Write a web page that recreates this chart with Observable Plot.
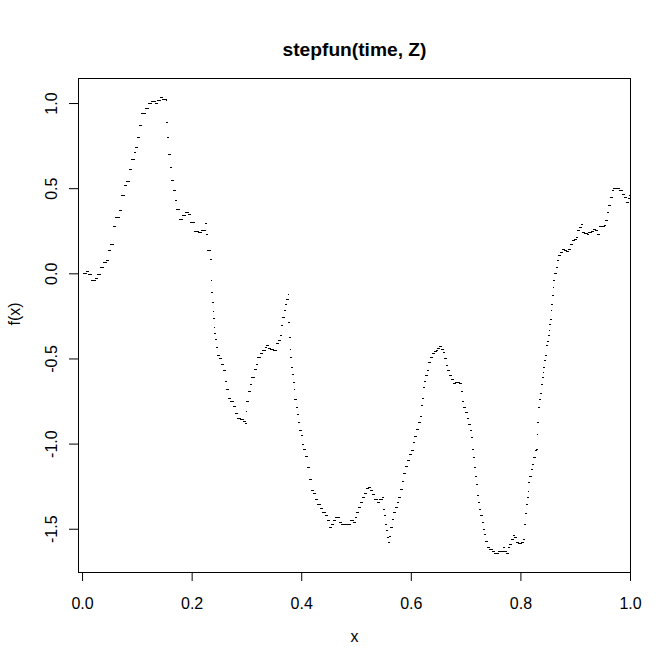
<!DOCTYPE html>
<html>
<head>
<meta charset="utf-8">
<script src="https://cdn.jsdelivr.net/npm/d3@7"></script>
<script src="https://cdn.jsdelivr.net/npm/@observablehq/plot@0.6"></script>
<style>
  html, body { margin: 0; padding: 0; background: #fff; }
  #chart svg { display: block; }
</style>
</head>
<body>
<div id="chart"></div>
<script>
const title = "stepfun(time, Z)";
const xLabel = "x";
const yLabel = "f(x)";

const xTicks = [0, 0.2, 0.4, 0.6, 0.8, 1.0];
const xTickLabels = ["0.0", "0.2", "0.4", "0.6", "0.8", "1.0"];
const yTicks = [-1.5, -1.0, -0.5, 0.0, 0.5, 1.0];
const yTickLabels = ["-1.5", "-1.0", "-0.5", "0.0", "0.5", "1.0"];

const time = [
0.0024,0.0086,0.0115,0.0177,0.0237,0.0279,0.0329,0.0389,0.0438,0.0480,
0.0524,0.0572,0.0616,0.0681,0.0725,0.0767,0.0816,0.0864,0.0908,0.0950,
0.0981,0.1010,0.1047,0.1090,0.1151,0.1211,0.1273,0.1333,0.1375,0.1425,
0.1474,0.1534,0.1547,0.1565,0.1584,0.1607,0.1638,0.1668,0.1699,0.1730,
0.1777,0.1826,0.1881,0.1942,0.1985,0.2046,0.2124,0.2186,0.2247,0.2265,
0.2296,0.2338,0.2356,0.2369,0.2380,0.2393,0.2398,0.2411,0.2417,0.2429,
0.2447,0.2471,0.2508,0.2552,0.2581,0.2612,0.2643,0.2672,0.2716,0.2763,
0.2800,0.2844,0.2899,0.2946,0.2977,0.2995,0.3008,0.3037,0.3068,0.3100,
0.3142,0.3178,0.3209,0.3251,0.3300,0.3342,0.3374,0.3403,0.3447,0.3494,
0.3531,0.3556,0.3585,0.3616,0.3647,0.3666,0.3689,0.3713,0.3739,0.3768,
0.3775,0.3786,0.3799,0.3812,0.3830,0.3848,0.3859,0.3872,0.3885,0.3909,
0.3932,0.3958,0.3976,0.4000,0.4018,0.4049,0.4073,0.4115,0.4152,0.4195,
0.4225,0.4268,0.4305,0.4347,0.4389,0.4438,0.4480,0.4517,0.4561,0.4590,
0.4621,0.4663,0.4700,0.4743,0.4804,0.4864,0.4908,0.4955,0.4986,0.5017,
0.5047,0.5078,0.5109,0.5151,0.5187,0.5229,0.5260,0.5302,0.5339,0.5383,
0.5425,0.5474,0.5503,0.5521,0.5540,0.5558,0.5576,0.5595,0.5613,0.5638,
0.5662,0.5686,0.5717,0.5748,0.5777,0.5808,0.5839,0.5868,0.5900,0.5931,
0.5973,0.6009,0.6040,0.6069,0.6100,0.6131,0.6174,0.6192,0.6205,0.6223,
0.6247,0.6265,0.6296,0.6325,0.6356,0.6387,0.6429,0.6466,0.6490,0.6526,
0.6557,0.6588,0.6612,0.6643,0.6672,0.6709,0.6740,0.6771,0.6813,0.6855,
0.6891,0.6917,0.6941,0.6964,0.6995,0.7026,0.7056,0.7087,0.7111,0.7123,
0.7142,0.7160,0.7178,0.7196,0.7215,0.7233,0.7251,0.7269,0.7301,0.7319,
0.7342,0.7366,0.7392,0.7439,0.7483,0.7525,0.7562,0.7604,0.7647,0.7684,
0.7713,0.7744,0.7775,0.7805,0.7836,0.7867,0.7896,0.7927,0.7969,0.8013,
0.8060,0.8073,0.8097,0.8110,0.8122,0.8141,0.8152,0.8170,0.8195,0.8214,
0.8243,0.8274,0.8292,0.8305,0.8316,0.8334,0.8353,0.8365,0.8384,0.8396,
0.8414,0.8425,0.8444,0.8457,0.8475,0.8488,0.8506,0.8524,0.8535,0.8548,
0.8561,0.8572,0.8584,0.8597,0.8608,0.8627,0.8652,0.8676,0.8700,0.8731,
0.8762,0.8804,0.8840,0.8882,0.8913,0.8944,0.8986,0.9023,0.9047,0.9078,
0.9109,0.9127,0.9169,0.9218,0.9247,0.9291,0.9328,0.9364,0.9401,0.9437,
0.9492,0.9534,0.9558,0.9584,0.9613,0.9644,0.9675,0.9704,0.9766,0.9808,
0.9857,0.9899,0.9936,0.9967,0.9996
];

const Z = [
0.000,0.014,-0.006,-0.037,-0.025,-0.006,0.037,0.066,0.076,0.135,
0.175,0.280,0.330,0.370,0.460,0.520,0.540,0.610,0.670,0.710,
0.740,0.800,0.870,0.940,0.970,1.000,1.014,1.000,1.018,1.037,
1.024,1.018,0.890,0.800,0.700,0.625,0.547,0.488,0.430,0.380,
0.320,0.340,0.360,0.350,0.300,0.250,0.243,0.257,0.296,0.233,
0.135,0.083,-0.040,-0.110,-0.170,-0.220,-0.265,-0.316,-0.350,-0.385,
-0.430,-0.480,-0.500,-0.530,-0.570,-0.630,-0.680,-0.730,-0.750,-0.780,
-0.820,-0.850,-0.855,-0.870,-0.880,-0.806,-0.750,-0.690,-0.650,-0.610,
-0.560,-0.530,-0.490,-0.470,-0.450,-0.430,-0.420,-0.440,-0.447,-0.450,
-0.453,-0.410,-0.390,-0.365,-0.306,-0.257,-0.218,-0.178,-0.150,-0.120,
-0.286,-0.375,-0.443,-0.490,-0.550,-0.590,-0.640,-0.680,-0.740,-0.786,
-0.826,-0.875,-0.920,-0.950,-1.000,-1.030,-1.070,-1.140,-1.210,-1.270,
-1.290,-1.325,-1.355,-1.380,-1.400,-1.420,-1.450,-1.487,-1.470,-1.450,
-1.430,-1.430,-1.460,-1.470,-1.470,-1.470,-1.450,-1.460,-1.430,-1.400,
-1.370,-1.345,-1.316,-1.290,-1.260,-1.256,-1.270,-1.296,-1.325,-1.340,
-1.325,-1.316,-1.385,-1.420,-1.470,-1.510,-1.550,-1.576,-1.540,-1.487,
-1.440,-1.400,-1.375,-1.345,-1.316,-1.267,-1.218,-1.170,-1.130,-1.096,
-1.060,-1.040,-0.990,-0.953,-0.914,-0.875,-0.835,-0.776,-0.730,-0.670,
-0.630,-0.600,-0.570,-0.520,-0.490,-0.467,-0.457,-0.450,-0.437,-0.424,
-0.443,-0.463,-0.500,-0.540,-0.570,-0.600,-0.620,-0.645,-0.640,-0.640,
-0.643,-0.690,-0.750,-0.786,-0.816,-0.850,-0.884,-0.920,-0.960,-1.030,
-1.080,-1.140,-1.190,-1.240,-1.300,-1.345,-1.385,-1.420,-1.460,-1.500,
-1.530,-1.570,-1.610,-1.620,-1.630,-1.645,-1.640,-1.630,-1.630,-1.610,
-1.630,-1.640,-1.610,-1.590,-1.560,-1.535,-1.550,-1.575,-1.586,-1.580,
-1.560,-1.470,-1.410,-1.355,-1.316,-1.276,-1.228,-1.190,-1.150,-1.120,
-1.080,-1.040,-1.030,-0.943,-0.875,-0.786,-0.737,-0.700,-0.650,-0.610,
-0.580,-0.550,-0.510,-0.480,-0.420,-0.400,-0.365,-0.330,-0.300,-0.267,
-0.218,-0.178,-0.130,-0.080,-0.040,0.000,0.037,0.076,0.106,0.125,
0.145,0.135,0.130,0.145,0.175,0.198,0.204,0.214,0.257,0.272,
0.288,0.243,0.237,0.233,0.243,0.249,0.263,0.253,0.229,0.276,
0.276,0.282,0.312,0.360,0.400,0.450,0.490,0.500,0.500,0.490,
0.465,0.450,0.420,0.445,0.460
];

const xDomain = [-0.0074, 1.0];
const yDomain = [-1.754, 1.147];

// step segments: each knot holds its value until the next knot
const steps = time.map((t, i) => ({
  x1: t,
  x2: i < time.length - 1 ? time[i + 1] : xDomain[1],
  y: Z[i]
}));

const chart = Plot.plot({
  width: 671,
  height: 670,
  marginLeft: 78,
  marginRight: 41,
  marginTop: 78,
  marginBottom: 98,
  style: {
    fontFamily: "'Liberation Sans', Arial, sans-serif",
    fontSize: "16px",
    background: "#ffffff",
    color: "#000000"
  },
  x: {domain: xDomain},
  y: {domain: yDomain},
  marks: [
    Plot.ruleY(steps, {
      x1: "x1", x2: "x2", y: "y",
      stroke: "#000", strokeWidth: 1, strokeLinecap: "square",
      shapeRendering: "crispEdges"
    }),
    Plot.frame({stroke: "#000", strokeWidth: 1}),
    Plot.axisX(xTicks, {
      tickSize: 9, tickPadding: 16, fontSize: 16, label: null,
      tickFormat: d => xTickLabels[xTicks.indexOf(d)]
    }),
    Plot.axisY(yTicks, {
      tickSize: 9, tickPadding: 13, tickRotate: -90, fontSize: 16, label: null,
      tickFormat: d => yTickLabels[yTicks.indexOf(d)]
    }),
    Plot.text([xLabel], {frameAnchor: "bottom", dy: 69, text: d => d, fontSize: 16, fill: "#000"}),
    Plot.text([yLabel], {frameAnchor: "left", dx: -64, rotate: -90, text: d => d, fontSize: 16, fill: "#000"}),
    Plot.text([title], {frameAnchor: "top", dy: -36, text: d => d, fontSize: 19.2, fontWeight: "bold", fill: "#000"})
  ]
});

document.getElementById("chart").appendChild(chart);
</script>
</body>
</html>
